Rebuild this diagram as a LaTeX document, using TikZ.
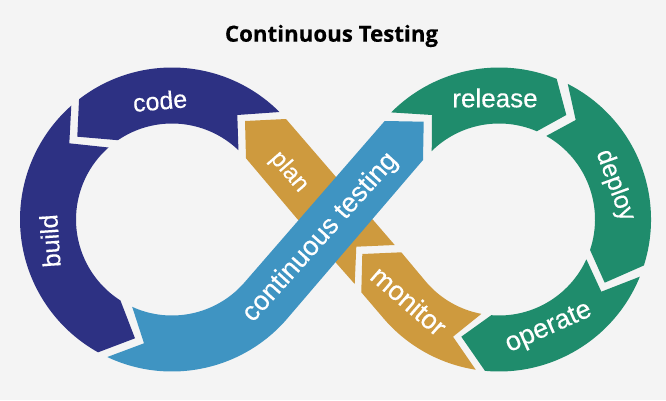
\documentclass[tikz,border=0pt]{standalone}
\usepackage{fontspec}
\setmainfont{Liberation Sans}
\newfontfamily\armfont[FakeBold=0.35]{Liberation Sans}
\newfontfamily\titlefont[BoldFeatures={FakeBold=0.25}]{Open Sans}
\usepackage{tikz}
\usetikzlibrary{positioning,calc}

\definecolor{paperbg}{HTML}{F4F4F4}
\definecolor{navyarm}{HTML}{2D3183}
\definecolor{goldarm}{HTML}{CE9A3E}
\definecolor{bluearm}{HTML}{3F94C2}
\definecolor{greenarm}{HTML}{1F8C6C}

\tikzset{
    steplabel/.style={text=white,font=\fontsize{#1}{#1}\armfont,inner sep=0pt}
}

\begin{document}
\begin{tikzpicture}[x=1pt,y=1pt]
    \useasboundingbox (0,0) rectangle (666,400);

    % Draw background
    \fill[paperbg] (0,0) rectangle (666,400);

    % Loop centres
    \coordinate (leftloop) at (172,180.5);
    \coordinate (rightloop) at (499,180.5);

    % Draw navy arms
    \fill[navyarm] ($(leftloop)+(127.7:152)$) arc[start angle=127.7,end angle=45,radius=152pt] -- (237.3,285) -- ($(leftloop)+(46.2:96)$) arc[start angle=46.2,end angle=124.3,radius=96pt] -- (77.3,263.3) -- cycle;
    \fill[navyarm] ($(leftloop)+(131.5:152)$) arc[start angle=131.5,end angle=240.9,radius=152pt] -- (135,61.7) -- ($(leftloop)+(237.5:96)$) arc[start angle=237.5,end angle=131.4,radius=96pt] -- (69.3,256.7) -- cycle;

    % Draw gold arms
    \fill[goldarm] (245,279) -- (286,281) -- (394.7,155) -- (356.3,153.3) -- (354.7,116) -- (296.7,181.7) -- (246,241.7) -- cycle;
    \fill[goldarm] (362.3,146) -- (401.3,147.7) -- ($(rightloop)+(220.9:96)$) arc[start angle=220.9,end angle=259.4,radius=96pt] -- (453,63.3) -- ($(rightloop)+(261.2:152)$) arc[start angle=261.2,end angle=220.9,radius=152pt] -- (361.3,107.7) -- cycle;

    % Draw green arms
    \fill[greenarm] ($(rightloop)+(135.2:152)$) arc[start angle=135.2,end angle=67.7,radius=152pt] -- (566.3,285) -- ($(rightloop)+(66.8:96)$) arc[start angle=66.8,end angle=134.5,radius=96pt] -- (432,285) -- cycle;
    \fill[greenarm] ($(rightloop)+(63.1:152)$) arc[start angle=63.1,end angle=-17.6,radius=152pt] -- (604.7,117.3) -- ($(rightloop)+(-18.5:96)$) arc[start angle=-18.5,end angle=60.5,radius=96pt] -- (575.7,280) -- cycle;
    \fill[greenarm] (461.3,63.3) -- ($(rightloop)+(265.4:96)$) arc[start angle=265.4,end angle=335.5,radius=96pt] -- (601.3,108.3) -- ($(rightloop)+(337.9:152)$) arc[start angle=337.9,end angle=264.7,radius=152pt] -- cycle;

    % Draw blue arm on top
    \fill[bluearm] (423.7,278.3) -- (384.7,279) -- ($(leftloop)+(318.5:96)$) arc[start angle=318.5,end angle=245.5,radius=96pt] -- (144,56.7) -- ($(leftloop)+(244.8:152)$) arc[start angle=244.8,end angle=318.5,radius=152pt] -- (423,240) -- cycle;

    % Draw labels
    \node[font=\fontsize{22.3}{22.3}\titlefont\bfseries,anchor=base,inner sep=0pt] (title) at (331.5,358.3) {Continuous Testing};
    \node[steplabel=25,rotate=5] (code) at (160,299.3) {code};
    \node[steplabel=25,rotate=94] (build) at (50,159) {build};
    \node[steplabel=24,rotate=-49] (plan) at (289,228) {plan};
    \node[steplabel=27,rotate=48] (testing) at (320.5,162.5) {continuous testing};
    \node[steplabel=26,rotate=0] (release) at (495,302) {release};
    \node[steplabel=25,rotate=-70] (deploy) at (615,214.5) {deploy};
    \node[steplabel=27,rotate=24] (operate) at (549,71.7) {operate};
    \node[steplabel=27,rotate=-41] (monitor) at (409,99.3) {monitor};
\end{tikzpicture}
\end{document}
